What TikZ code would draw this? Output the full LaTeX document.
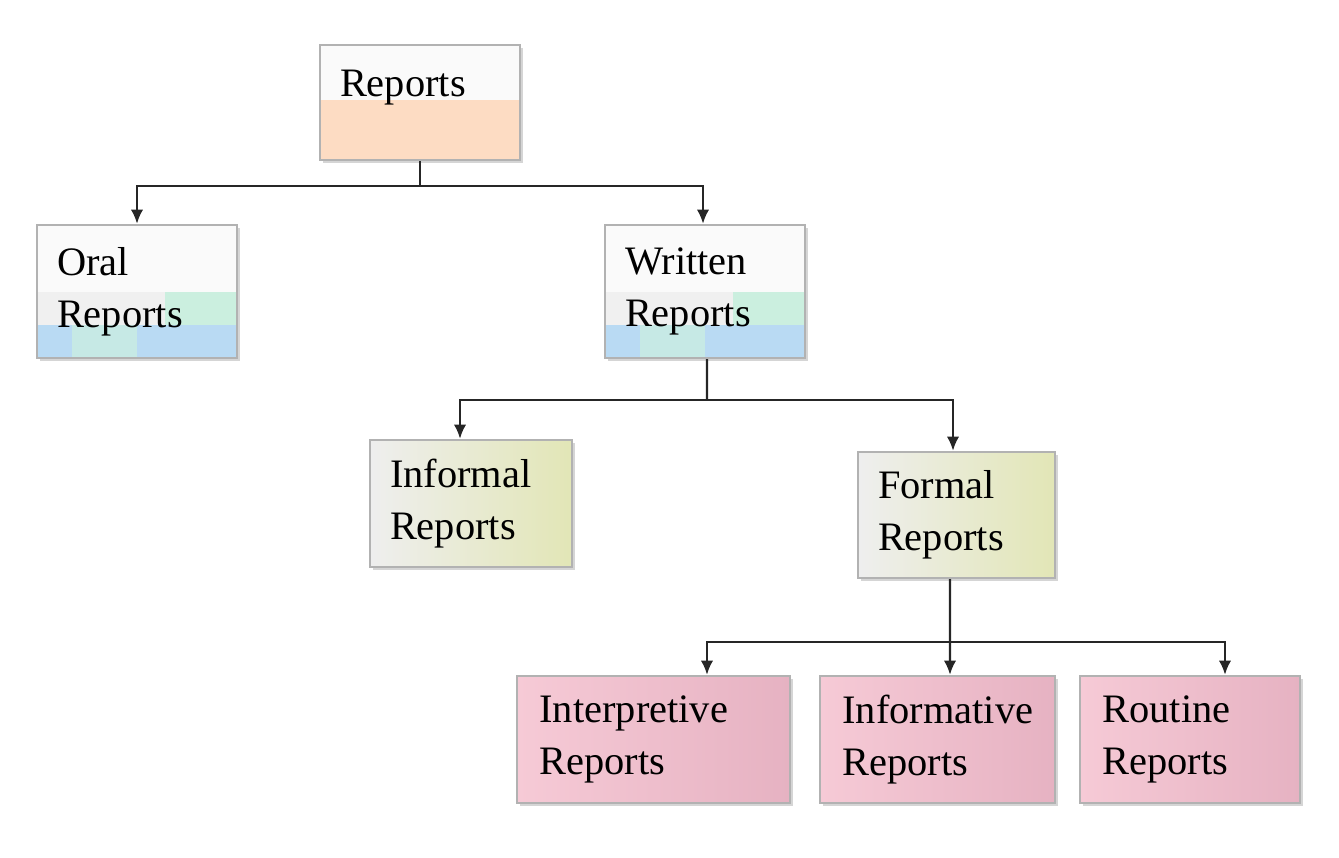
\documentclass[tikz,border=0pt]{standalone}
\usepackage{fontspec}
\setmainfont{Liberation Serif}
\usetikzlibrary{arrows.meta,shadows}

\definecolor{peach}{HTML}{FDDCC3}
\definecolor{skyband}{HTML}{B9DAF3}
\definecolor{mintband}{HTML}{CBEFDF}
\definecolor{paleolive}{HTML}{E2E6B6}
\definecolor{rosebox}{HTML}{F6CAD6}
\definecolor{rosedark}{HTML}{E6B2C2}
\definecolor{edgegray}{HTML}{B2B2B2}

\tikzset{
  box/.style={draw=edgegray, line width=1.4pt, align=left,
    inner xsep=0.4cm, inner ysep=0pt,
    font=\fontsize{23}{29.5}\selectfont,
    drop shadow={shadow xshift=1.6pt, shadow yshift=-1.8pt, fill=gray!65}},
  topbox/.style={box, fill=gray!4,
    path picture={\fill[peach] (path picture bounding box.south west)
      rectangle ([yshift=1.2cm]path picture bounding box.south east);}},
  bandbox/.style={box, fill=gray!4,
    path picture={
      \fill[gray!12] ([yshift=0.66cm]path picture bounding box.south west)
        rectangle ([xshift=2.56cm,yshift=1.32cm]path picture bounding box.south west);
      \fill[mintband] ([xshift=2.56cm,yshift=0.66cm]path picture bounding box.south west)
        rectangle ([yshift=1.32cm]path picture bounding box.south east);
      \fill[skyband] (path picture bounding box.south west)
        rectangle ([yshift=0.66cm]path picture bounding box.south east);
      \fill[mintband!70!skyband] ([xshift=0.7cm]path picture bounding box.south west)
        rectangle ([xshift=2.0cm,yshift=0.66cm]path picture bounding box.south west);}},
  olivebox/.style={box, left color=gray!13, right color=paleolive},
  rosebox/.style={box, left color=rosebox, right color=rosedark},
  conn/.style={line width=1.3pt, draw=black!85},
  arr/.style={conn, -{Latex[length=8pt,width=7pt]}}
}

\begin{document}
\begin{tikzpicture}[x=0.02cm, y=-0.02cm]
  \useasboundingbox (0,0) rectangle (1339,858);

  % Level 0
  \node[topbox, text width=3.2cm, text height=1.04cm, text depth=1.26cm] (rep) at (420,102.5) {Reports};

  % Level 1
  \node[bandbox, text width=3.2cm, minimum height=2.66cm] (oral) at (137,291.5) {Oral\\Reports};
  \node[bandbox, text width=3.2cm, minimum height=2.66cm] (writ) at (705,291.5) {Written\\Reports};

  % Level 2
  \node[olivebox, text width=3.24cm, minimum height=2.54cm] (infl) at (471,503.5) {Informal\\Reports};
  \node[olivebox, text width=3.14cm, minimum height=2.52cm] (form) at (956.5,515) {Formal\\Reports};

  % Level 3
  \node[rosebox, text width=4.56cm, minimum height=2.54cm, inner xsep=0.45cm] (intp) at (653.5,739.5) {Interpretive\\Reports};
  \node[rosebox, text width=3.8cm, minimum height=2.54cm, inner xsep=0.45cm] (infv) at (937.5,739.5) {Informative\\Reports};
  \node[rosebox, text width=3.5cm, minimum height=2.54cm, inner xsep=0.45cm] (rout) at (1190,739.5) {Routine\\Reports};

  % Bus lines
  \coordinate (j1) at (418,186);
  \coordinate (j2) at (707,400);
  \coordinate (j3) at (950,642);

  % Reports -> Oral, Written
  \draw[conn] (rep.south) -- (rep.south |- j1);
  \draw[arr] (rep.south |- j1) -| (oral.north);
  \draw[arr] (rep.south |- j1) -| ([xshift=-0.04cm]writ.north);

  % Written -> Informal, Formal
  \draw[conn] ([xshift=0.04cm]writ.south) -- (j2);
  \draw[arr] (j2) -| ([xshift=-0.22cm]infl.north);
  \draw[arr] (j2) -| ([xshift=-0.07cm]form.north);

  % Formal -> Interpretive, Informative, Routine
  \draw[conn] ([xshift=-0.13cm]form.south) -- (j3);
  \draw[arr] (j3) -| ([xshift=1.07cm]intp.north);
  \draw[arr] (j3) -- ([xshift=0.25cm]infv.north);
  \draw[arr] (j3) -| ([xshift=0.7cm]rout.north);
\end{tikzpicture}
\end{document}
